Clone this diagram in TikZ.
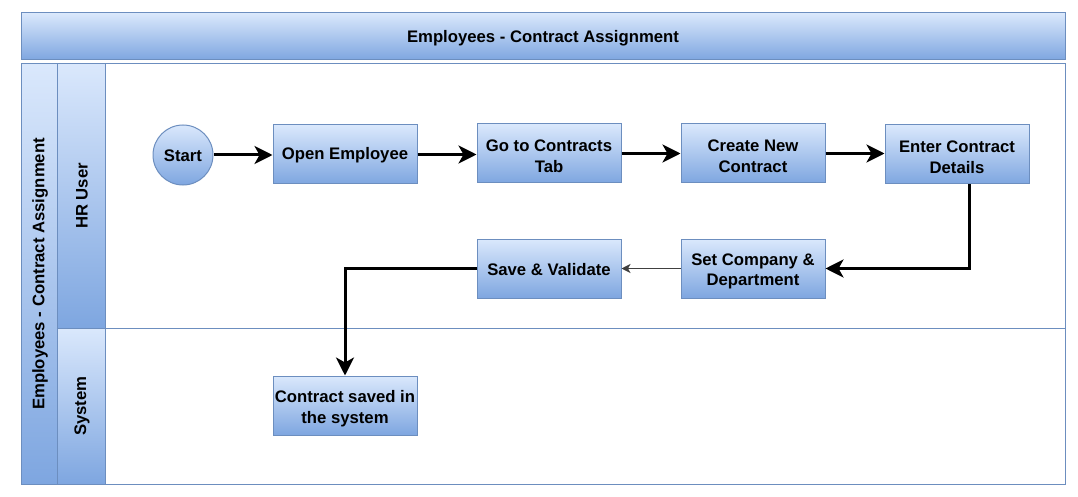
\documentclass[tikz,border=0pt]{standalone}
\usepackage{fontspec}
\setmainfont{Liberation Sans}
\usetikzlibrary{arrows.meta}
\definecolor{lightb}{HTML}{DAE8FC}
\definecolor{darkb}{HTML}{7EA6E0}
\definecolor{edgeb}{HTML}{6C8EBF}
\tikzset{
  grad/.style={draw=edgeb, line width=1pt, top color=lightb, bottom color=darkb},
  stepbox/.style={grad, rectangle, minimum width=144pt, minimum height=59pt, inner sep=0pt},
  lbl/.style={font=\bfseries\fontsize{16.7}{20.5}\selectfont, inner sep=0pt, align=center},
  flow/.style={line width=3pt, -{Stealth[length=18pt, width=18pt, inset=5pt]}},
  thinflow/.style={line width=1pt, draw=black!75, -{Stealth[length=9pt, width=9pt, inset=2.5pt]}}
}
\begin{document}
\begin{tikzpicture}[x=1pt, y=-1pt]
\useasboundingbox (0,0) rectangle (1078,497);
\fill[white] (0,0) rectangle (1078,497);
% title bar
\draw[grad] (21,13) rectangle (1065,60);
\node[lbl] (title) at (543,38) {Employees - Contract Assignment};
% pool
\draw[edgeb, line width=1pt] (21,64) rectangle (1065,484);
\draw[grad] (21,64) rectangle (57,484);
\node[lbl, rotate=90] (pool) at (40,274) {Employees - Contract Assignment};
% lanes
\draw[edgeb, line width=1pt] (57,64) rectangle (1065,328);
\draw[edgeb, line width=1pt] (57,328) rectangle (1065,484);
\draw[grad] (57,64) rectangle (105,328);
\draw[grad] (57,328) rectangle (105,484);
\node[lbl, rotate=90] (hr) at (82,196) {HR User};
\node[lbl, rotate=90] (sys) at (82,406) {System};
% nodes
\node[grad, circle, minimum size=60pt, inner sep=0pt] (start) at (183,155) {};
\node[lbl] (startt) at (183,156) {Start};
\node[stepbox] (open) at (345,154.5) {};
\node[lbl] (opent) at (345,155.5) {Open Employee};
\node[stepbox] (tab) at (549,153.5) {};
\node[lbl] (tabt) at (549,156.5) {Go to Contracts\\Tab};
\node[stepbox] (create) at (753,153.5) {};
\node[lbl] (createt) at (753,156.5) {Create New\\Contract};
\node[stepbox] (enter) at (957,154.5) {};
\node[lbl] (entert) at (957,157.5) {Enter Contract\\Details};
\node[stepbox] (setco) at (753,268.5) {};
\node[lbl] (setcot) at (753,271.5) {Set Company \&\\Department};
\node[stepbox] (save) at (549,268.5) {};
\node[lbl] (savet) at (549,269.5) {Save \& Validate};
\node[stepbox] (saved) at (345,405.5) {};
\node[lbl] (savedt) at (345,408.5) {Contract saved in\\the system};
% connectors
\coordinate (ebend) at (969,268.5);
\draw[flow] (start.east) -- (open.west |- start.east);
\draw[flow] (open.east) -- (tab.west |- open.east);
\draw[flow] (tab.east) -- (create.west);
\draw[flow] (create.east) -- (enter.west |- create.east);
\draw[flow] (enter.south -| ebend) -- (ebend) -- (setco.east);
\draw[thinflow] (setco) -- (save);
\draw[flow] (save.west) -- (save.west -| saved.north) -- (saved.north);
\end{tikzpicture}
\end{document}
